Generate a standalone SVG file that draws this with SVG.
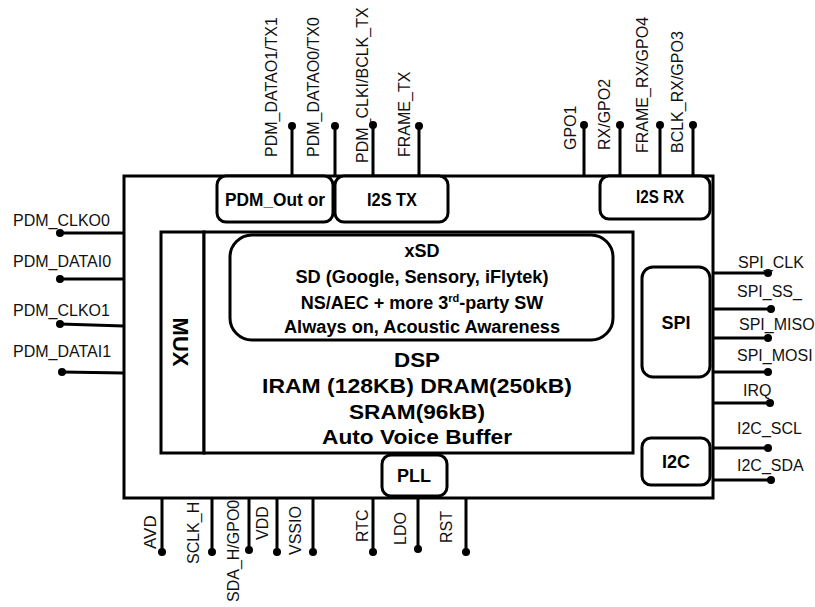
<svg xmlns="http://www.w3.org/2000/svg" width="815" height="607" viewBox="0 0 815 607">
<style>
.box{fill:#fff;stroke:#000;stroke-width:3}
.rbox{fill:#fff;stroke:#000;stroke-width:3}
.pin{stroke:#000;stroke-width:3;fill:none}
.dot{fill:#000}
.lbl{font-family:"Liberation Sans",Arial,sans-serif;font-size:16px;fill:#111}
.b{font-family:"Liberation Sans",Arial,sans-serif;font-weight:bold;fill:#000}
</style>
<rect width="815" height="607" fill="#fff"/>

<g id="chip"><rect class="box" x="124" y="176" width="589" height="322"/></g>

<g id="connectors">
  <!-- left -->
  <path class="pin" d="M124 233H60M124 279H60M124 326L60 324M124 373L62 372"/>
  <circle class="dot" cx="60" cy="233" r="4"/><circle class="dot" cx="60" cy="279" r="4"/>
  <circle class="dot" cx="60" cy="324" r="4"/><circle class="dot" cx="62" cy="372" r="4"/>
  <!-- top -->
  <path class="pin" d="M292 176V126M335 176V126M373 176V125M419 176V126M584 176V125M620 176V125M660 176V125M693 176V125"/>
  <circle class="dot" cx="292" cy="126" r="4"/><circle class="dot" cx="335" cy="126" r="4"/>
  <circle class="dot" cx="373" cy="125" r="4"/><circle class="dot" cx="419" cy="126" r="4"/>
  <circle class="dot" cx="584" cy="125" r="4"/><circle class="dot" cx="620" cy="125" r="4"/>
  <circle class="dot" cx="660" cy="125" r="4"/><circle class="dot" cx="693" cy="125" r="4"/>
  <!-- right -->
  <path class="pin" d="M713 273H768M713 309H771M713 338H768M713 372H768M713 403H770M713 448H768M713 480H771"/>
  <circle class="dot" cx="768" cy="273" r="4"/><circle class="dot" cx="771" cy="309" r="4"/>
  <circle class="dot" cx="768" cy="338" r="4"/><circle class="dot" cx="768" cy="372" r="4"/>
  <circle class="dot" cx="770" cy="403" r="4"/><circle class="dot" cx="768" cy="448" r="4"/>
  <circle class="dot" cx="771" cy="480" r="4"/>
  <!-- bottom -->
  <path class="pin" d="M162 498V552M212 498V552M249 498V550M277 498V552M313 498V552M373 498V552M418 498V549M466 498V552"/>
  <circle class="dot" cx="162" cy="552" r="4"/><circle class="dot" cx="212" cy="552" r="4"/>
  <circle class="dot" cx="249" cy="550" r="4"/><circle class="dot" cx="277" cy="552" r="4"/>
  <circle class="dot" cx="313" cy="552" r="4"/><circle class="dot" cx="373" cy="552" r="4"/>
  <circle class="dot" cx="418" cy="549" r="4"/><circle class="dot" cx="466" cy="552" r="4"/>
</g>

<g id="pin-labels" class="lbl">
  <text x="13" y="226">PDM_CLKO0</text>
  <text x="13" y="267">PDM_DATAI0</text>
  <text x="13" y="316">PDM_CLKO1</text>
  <text x="13" y="357">PDM_DATAI1</text>

  <text transform="translate(277,157) rotate(-90)">PDM_DATAO1/TX1</text>
  <text transform="translate(319,157) rotate(-90)">PDM_DATAO0/TX0</text>
  <text transform="translate(368,163) rotate(-90)">PDM_CLKI/BCLK_TX</text>
  <text transform="translate(410,157) rotate(-90)">FRAME_TX</text>
  <text transform="translate(576,150) rotate(-90)">GPO1</text>
  <text transform="translate(610,150) rotate(-90)">RX/GPO2</text>
  <text transform="translate(648,153) rotate(-90)">FRAME_RX/GPO4</text>
  <text transform="translate(683,153) rotate(-90)">BCLK_RX/GPO3</text>

  <text x="738" y="268">SPI_CLK</text>
  <text x="737" y="297">SPI_SS_</text>
  <text x="739" y="330">SPI_MISO</text>
  <text x="737" y="361">SPI_MOSI</text>
  <text x="743" y="396">IRQ</text>
  <text x="737" y="434">I2C_SCL</text>
  <text x="737" y="471">I2C_SDA</text>

  <text transform="translate(156,549) rotate(-90)" font-size="17">AVD</text>
  <text transform="translate(199,564) rotate(-90)">SCLK_H</text>
  <text transform="translate(239,602) rotate(-90)">SDA_H/GPO0</text>
  <text transform="translate(268,540) rotate(-90)">VDD</text>
  <text transform="translate(301,555) rotate(-90)">VSSIO</text>
  <text transform="translate(368,542) rotate(-90)">RTC</text>
  <text transform="translate(406,545) rotate(-90)">LDO</text>
  <text transform="translate(452,543) rotate(-90)">RST</text>
</g>

<g id="mux">
  <rect class="box" x="161" y="232" width="43" height="221" stroke-width="2.5"/>
  <text class="b" font-size="22" text-anchor="middle" transform="translate(173,342) rotate(90)">MUX</text>
</g>

<g id="dsp">
  <rect class="box" x="204" y="232" width="429" height="221" stroke-width="2.5"/>
  <g class="b" font-size="20" text-anchor="middle">
    <text x="417" y="367" textLength="46" lengthAdjust="spacingAndGlyphs">DSP</text>
    <text x="417" y="393" textLength="310" lengthAdjust="spacingAndGlyphs">IRAM (128KB)  DRAM(250kB)</text>
    <text x="417" y="419" textLength="136" lengthAdjust="spacingAndGlyphs">SRAM(96kB)</text>
    <text x="417" y="444" textLength="190" lengthAdjust="spacingAndGlyphs">Auto Voice Buffer</text>
  </g>
</g>

<g id="xsd">
  <rect class="rbox" x="230" y="235" width="383" height="105" rx="22"/>
  <g class="b" font-size="18" text-anchor="middle">
    <text x="422" y="257">xSD</text>
    <text x="422" y="283" textLength="253" lengthAdjust="spacingAndGlyphs">SD (Google, Sensory, iFlytek)</text>
    <text x="422" y="309">NS/AEC + more  3<tspan font-size="11" dy="-7">rd</tspan><tspan dy="7">-party SW</tspan></text>
    <text x="422" y="333" textLength="276" lengthAdjust="spacingAndGlyphs">Always on, Acoustic Awareness</text>
  </g>
</g>

<g id="pdm-out">
  <rect class="rbox" x="217" y="176" width="116" height="46" rx="9"/>
  <text class="b" font-size="18" x="275" y="206" text-anchor="middle" textLength="100" lengthAdjust="spacingAndGlyphs">PDM_Out or</text>
</g>
<g id="i2s-tx">
  <rect class="rbox" x="335" y="176" width="113" height="46" rx="9"/>
  <text class="b" font-size="18" x="392" y="206" text-anchor="middle" textLength="50" lengthAdjust="spacingAndGlyphs">I2S TX</text>
</g>
<g id="i2s-rx">
  <rect class="rbox" x="600" y="176" width="110" height="43" rx="9"/>
  <text class="b" font-size="18" x="660" y="203" text-anchor="middle" textLength="48" lengthAdjust="spacingAndGlyphs">I2S RX</text>
</g>
<g id="spi">
  <rect class="rbox" x="642" y="267" width="68" height="110" rx="11"/>
  <text class="b" font-size="18" x="676" y="329" text-anchor="middle">SPI</text>
</g>
<g id="i2c">
  <rect class="rbox" x="642" y="438" width="68" height="47" rx="9"/>
  <text class="b" font-size="18" x="676" y="468" text-anchor="middle">I2C</text>
</g>
<g id="pll">
  <rect class="rbox" x="382" y="455" width="65" height="41" rx="9"/>
  <text class="b" font-size="18" x="414" y="482" text-anchor="middle">PLL</text>
</g>
</svg>
